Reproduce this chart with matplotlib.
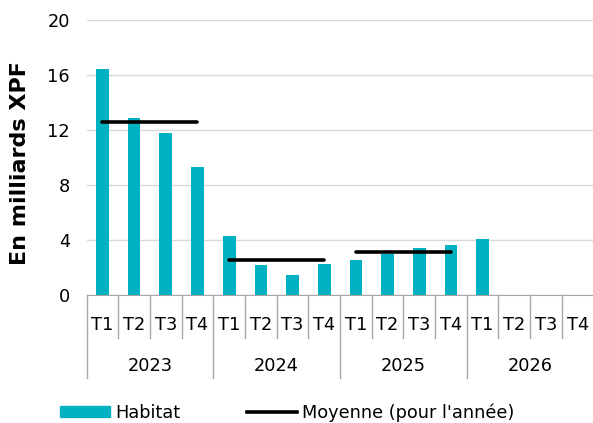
import numpy as np
import matplotlib
matplotlib.use("Agg")
import matplotlib.pyplot as plt
from matplotlib.lines import Line2D
from matplotlib.patches import Patch

years = ['2023', '2024', '2025', '2026']
quarters = ['T1', 'T2', 'T3', 'T4']
habitat = [16.4, 12.87, 11.78, 9.28,
           4.27, 2.18, 1.45, 2.25,
           2.55, 2.96, 3.44, 3.64,
           4.07, np.nan, np.nan, np.nan]
moyenne = [12.6, 2.55, 3.15]   # 2023, 2024, 2025

teal = '#00B1C1'
gray = '#A6A6A6'
fs = 12.8

fig = plt.figure(figsize=(5.93, 4.23), dpi=100)
ax = fig.add_axes([86.6 / 593, 1 - 295 / 423, 506.9 / 593, 275 / 423])

x = np.arange(len(habitat))
ax.bar(x, habitat, width=0.4, color=teal, zorder=2)

for i, m in enumerate(moyenne):
    ax.plot([4 * i, 4 * i + 3], [m, m], color='black', lw=2.6,
            solid_capstyle='round', zorder=3)

ax.set_xlim(-0.5, 15.5)
ax.set_ylim(0, 20)
ax.set_yticks(range(0, 21, 4))
ax.yaxis.grid(True, color='#D9D9D9', lw=1, zorder=0)
ax.set_axisbelow(True)
ax.tick_params(axis='y', length=0, pad=12, labelsize=fs)
ax.set_xticks([])
for s in ['left', 'right', 'top']:
    ax.spines[s].set_visible(False)
ax.spines['bottom'].set_color(gray)

# multi-level category axis
tr = ax.get_xaxis_transform()
for b in np.arange(-0.5, 15, 1):
    low = -0.302 if b % 4 == 3.5 else -0.156
    ax.plot([b, b], [0, low], color=gray, lw=1, transform=tr, clip_on=False)
for i in x:
    ax.text(i, -0.109, quarters[i % 4], transform=tr, ha='center', va='center',
            fontsize=fs)
for j, yr in enumerate(years):
    ax.text(4 * j + 1.5, -0.258, yr, transform=tr, ha='center', va='center',
            fontsize=fs)

fig.text(20 / 593, 1 - 163 / 423, 'En milliards XPF', rotation=90,
         ha='center', va='center', fontsize=16, fontweight='bold')

kw = dict(loc='center left', frameon=False, fontsize=fs, handlelength=2.8,
          handleheight=0.6, handletextpad=0.3, borderpad=0, borderaxespad=0)
fig.legend([Patch(color=teal)], ['Habitat'],
           bbox_to_anchor=(60 / 593, 1 - 413 / 423), **kw)
fig.legend([Line2D([], [], color='black', lw=2.6)], ["Moyenne (pour l'année)"],
           bbox_to_anchor=(247 / 593, 1 - 413 / 423), **kw)

fig.savefig('out.png', dpi=100)
